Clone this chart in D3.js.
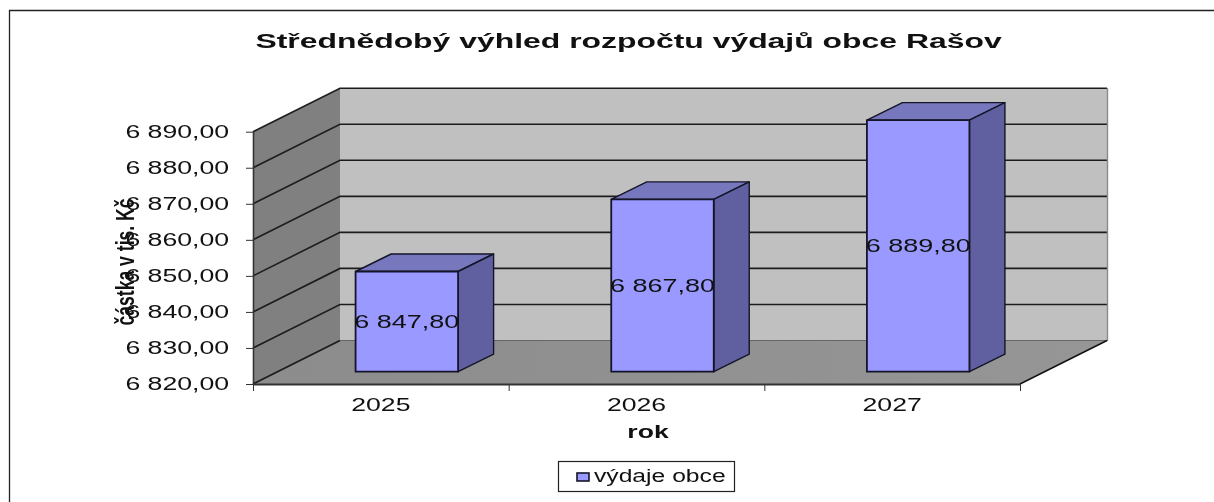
<!DOCTYPE html>
<html><head><meta charset="utf-8">
<script src="https://cdn.jsdelivr.net/npm/d3@7"></script>
<style>html,body{margin:0;padding:0;background:#fff;overflow:hidden}svg{display:block;filter:blur(.45px)}text{font-family:"Liberation Sans",Arial,sans-serif;fill:#111}</style>
</head><body><svg id="c" width="1214" height="502"></svg>
<script>
const chartTitle = "Střednědobý výhled rozpočtu výdajů obce Rašov";
const categories = ["2025","2026","2027"];
const values = [6847.8,6867.8,6889.8];
const seriesName = "výdaje obce";
const valueTicks = [6820,6830,6840,6850,6860,6870,6880,6890];
const xTitle = "rok";
const yTitle = "částka v tis. Kč";

const fmt = v => { const s = v.toFixed(2).replace(".",","); return s[0]+" "+s.slice(1); };
const svg = d3.select("#c");
const FS = 18, SX = 1.48;
const x0=253, x1=1020, dx=87, dy=43.5;
const y = d3.scaleLinear().domain([6820,6890]).range([384,131.7]);
const x = d3.scaleBand().domain(categories).range([x0,x1]);
const poly=(pts,fill,stroke,sw)=>svg.append("polygon").attr("points",pts.map(p=>p.join(",")).join(" ")).attr("fill",fill).attr("stroke",stroke||"none").attr("stroke-width",sw||0).attr("stroke-linejoin","round");
const label=(t,cx,by,o={})=>svg.append("text").attr("transform",`translate(${cx},${by}) scale(${o.sx||SX},1)`).attr("text-anchor",o.anchor||"middle").attr("font-size",o.fs||FS).attr("font-weight",o.bold?"bold":"normal").attr("word-spacing",o.ws||0).text(t);

// frame
svg.append("path").attr("d","M9.5,502V10.5H1214").attr("fill","none").attr("stroke","#222").attr("stroke-width",1.3);

// walls
const yb=y(6890), ya=y(6820);
poly([[x0,ya],[x0+dx,ya-dy],[x0+dx,yb-dy],[x0,yb]],"#808080");
poly([[x0+dx,ya-dy],[x1+dx+1,ya-dy],[x1+dx+1,yb-dy],[x0+dx,yb-dy]],"#c0c0c0");
const defs=svg.append("defs");
const g=defs.append("linearGradient").attr("id","fl");
g.append("stop").attr("offset",0).attr("stop-color","#8c8c8c");
g.append("stop").attr("offset",1).attr("stop-color","#969696");
poly([[x0,ya],[x0+dx,ya-dy],[x1+dx+1,ya-dy],[x1,ya]],"url(#fl)");

// grid
valueTicks.forEach(v=>{
  const d=`M${x0},${y(v)}L${x0+dx},${y(v)-dy}`+(v>6820?`H${x1+dx}`:"");
  svg.append("path").attr("d",d).attr("fill","none").attr("stroke","#1c1c1c").attr("stroke-width",1.6);
});
svg.append("path").attr("d",`M${x0+dx},${ya-dy}H${x1+dx+1}`).attr("stroke","#666").attr("fill","none");
svg.append("path").attr("d",`M${x1+dx+.5},${yb-dy}V${ya-dy}`).attr("stroke","#8a8a8a").attr("fill","none").attr("stroke-width",1.4);
svg.append("path").attr("d",`M${x1},${ya}L${x1+dx},${ya-dy}`).attr("stroke","#111").attr("fill","none").attr("stroke-width",1.5);
svg.append("path").attr("d",`M${x0+.5},${yb}V${ya}`).attr("stroke","#333").attr("fill","none").attr("stroke-width",1.6);
svg.append("path").attr("d",`M${x0},${ya+.5}H${x1}`).attr("stroke","#333").attr("fill","none").attr("stroke-width",2);

// axes (lines + ticks)
const ay=svg.append("g").attr("transform",`translate(${x0},0)`).call(d3.axisLeft(y).tickValues(valueTicks).tickSize(7).tickPadding(17).tickFormat(fmt));
ay.select(".domain").remove();
ay.selectAll("line").attr("stroke","#333");
ay.selectAll("text").attr("font-size",FS).attr("transform",`scale(${SX},1)`).attr("x",-24/SX).attr("fill","#111").style("font-family",'"Liberation Sans"');
const ax=svg.append("g").attr("transform",`translate(0,${ya})`).call(d3.axisBottom(x).tickValues([]).tickSize(0));
ax.select(".domain").remove();
[...categories.map(c=>x(c)),x1].forEach(px=>svg.append("line").attr("x1",px+.5).attr("x2",px+.5).attr("y1",ya).attr("y2",ya+7).attr("stroke","#333"));
categories.forEach(c=>label(c,x(c)+x.bandwidth()/2,411));

// bars
const bw=102.5, bdx=35.5, bdy=17.5, offX=26, offY=12.3;
categories.forEach((c,i)=>{
  const cx=x(c)+x.bandwidth()/2+offX, L=cx-bw/2, R=cx+bw/2;
  const B=y(6820)-offY, T=y(values[i])-offY;
  poly([[L,T],[L+bdx,T-bdy],[R+bdx,T-bdy],[R,T]],"#7777bd","#15152a",1.4);
  poly([[R,T],[R+bdx,T-bdy],[R+bdx,B-bdy],[R,B]],"#6060a0","#15152a",1.4);
  poly([[L,T],[R,T],[R,B],[L,B]],"#9999ff","#15152a",1.8);
  label(fmt(values[i]),cx,(T+B)/2+6.5,{sx:1.5});
});

// titles
label(chartTitle,628.5,48,{bold:true,fs:21,sx:1.52});
label(xTitle,648,438,{bold:true,fs:19,sx:1.4});
svg.append("text").attr("transform",`translate(134,262) rotate(-90) scale(1,1.5)`).attr("text-anchor","middle").attr("font-size",17.6).attr("font-weight","bold").text(yTitle);

// legend
svg.append("rect").attr("x",558.5).attr("y",461.5).attr("width",176).attr("height",30).attr("fill","#fff").attr("stroke","#222").attr("stroke-width",1.2);
svg.append("rect").attr("x",577).attr("y",473).attr("width",12).attr("height",8).attr("fill","#9999ff").attr("stroke","#15152a").attr("stroke-width",1.6);
label(seriesName,594,482,{anchor:"start",fs:17.5,sx:1.41});
</script></body></html>
